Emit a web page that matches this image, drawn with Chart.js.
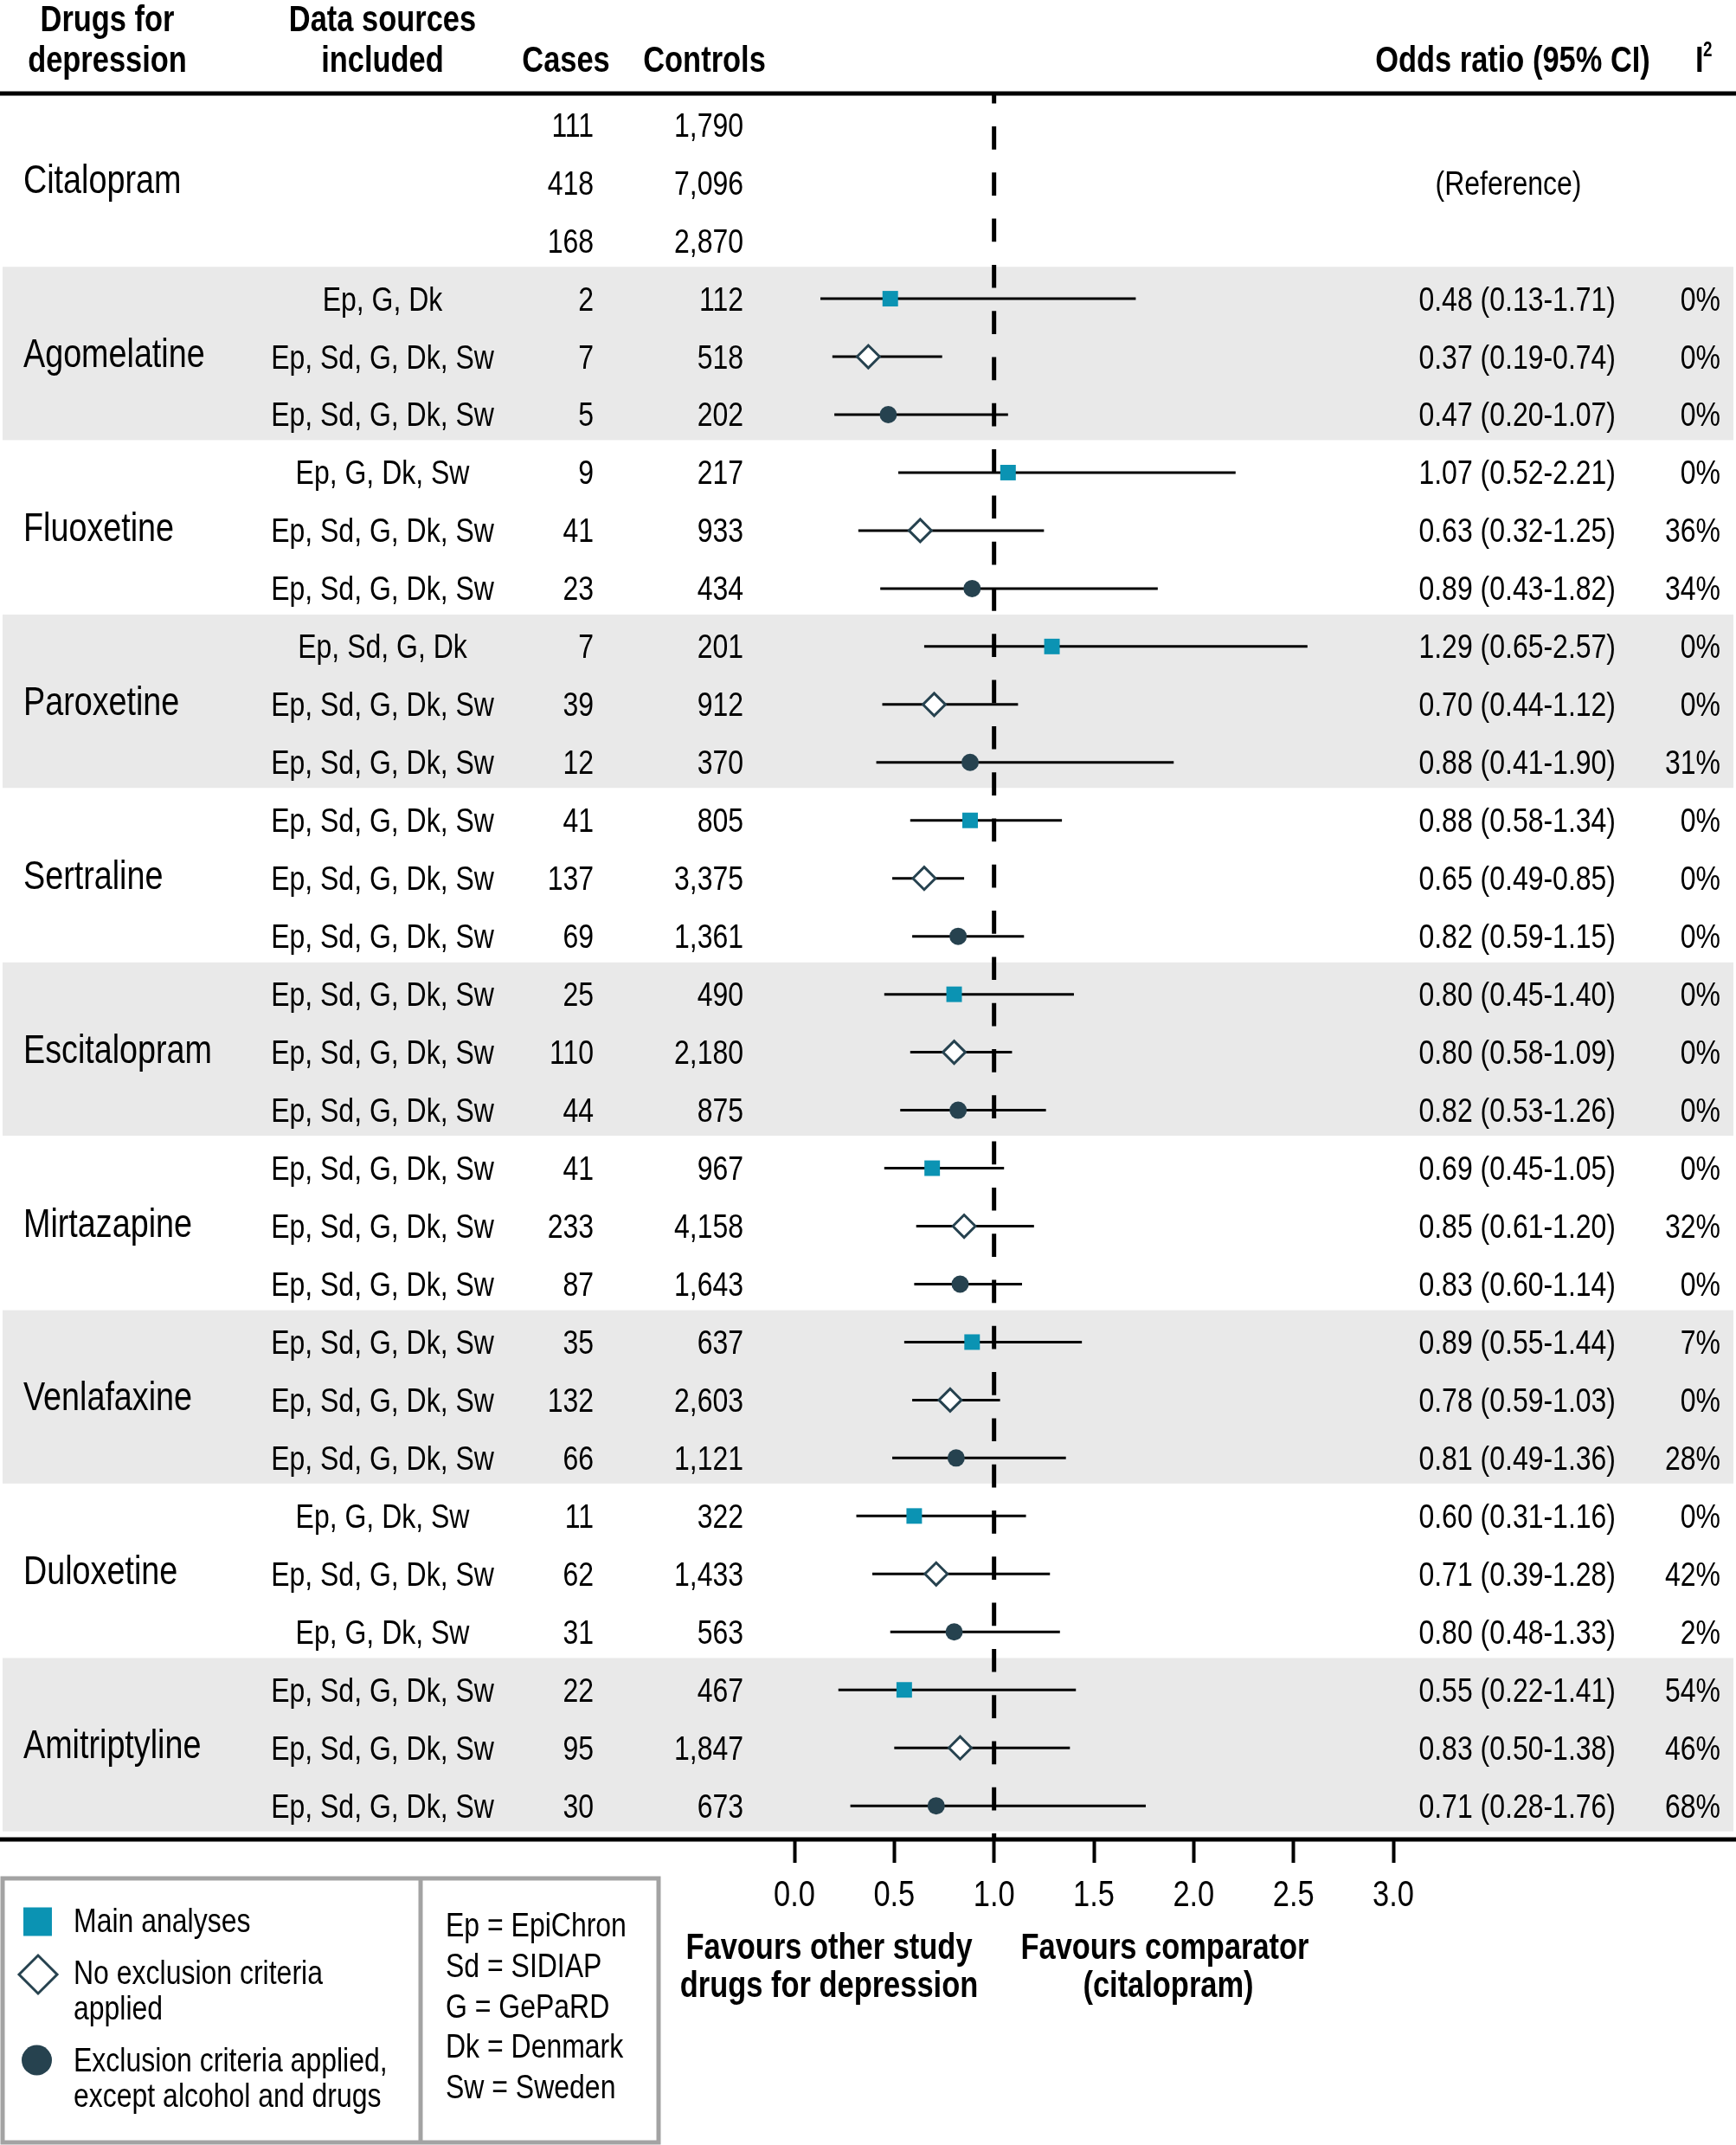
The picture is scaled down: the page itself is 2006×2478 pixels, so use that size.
<!DOCTYPE html>
<html>
<head>
<meta charset="utf-8">
<title>Drugs for depression vs citalopram</title>
<script src="https://cdn.jsdelivr.net/npm/chart.js@4.4.1/dist/chart.umd.min.js"></script>
<style>
  html, body { margin: 0; padding: 0; background: #fff; }
  #forest { display: block; }
</style>
</head>
<body>
<canvas id="forest" width="2006" height="2478"></canvas>
<script>
// Data: 10 drugs x 3 analyses
const drugs = ['Citalopram', 'Agomelatine', 'Fluoxetine', 'Paroxetine', 'Sertraline',
  'Escitalopram', 'Mirtazapine', 'Venlafaxine', 'Duloxetine', 'Amitriptyline'];
const ALL = 'Ep, Sd, G, Dk, Sw';
const dataSources = ['', '', '',
  'Ep, G, Dk', ALL, ALL,
  'Ep, G, Dk, Sw', ALL, ALL,
  'Ep, Sd, G, Dk', ALL, ALL,
  ALL, ALL, ALL,
  ALL, ALL, ALL,
  ALL, ALL, ALL,
  ALL, ALL, ALL,
  'Ep, G, Dk, Sw', ALL, 'Ep, G, Dk, Sw',
  ALL, ALL, ALL];
const cases = [111, 418, 168, 2, 7, 5, 9, 41, 23, 7, 39, 12, 41, 137, 69,
  25, 110, 44, 41, 233, 87, 35, 132, 66, 11, 62, 31, 22, 95, 30];
const controls = [1790, 7096, 2870, 112, 518, 202, 217, 933, 434, 201, 912, 370, 805, 3375, 1361,
  490, 2180, 875, 967, 4158, 1643, 637, 2603, 1121, 322, 1433, 563, 467, 1847, 673];
const oddsRatio = [null, null, null, 0.48, 0.37, 0.47, 1.07, 0.63, 0.89, 1.29, 0.70, 0.88,
  0.88, 0.65, 0.82, 0.80, 0.80, 0.82, 0.69, 0.85, 0.83, 0.89, 0.78, 0.81, 0.60, 0.71, 0.80, 0.55, 0.83, 0.71];
const ciLower = [null, null, null, 0.13, 0.19, 0.20, 0.52, 0.32, 0.43, 0.65, 0.44, 0.41,
  0.58, 0.49, 0.59, 0.45, 0.58, 0.53, 0.45, 0.61, 0.60, 0.55, 0.59, 0.49, 0.31, 0.39, 0.48, 0.22, 0.50, 0.28];
const ciUpper = [null, null, null, 1.71, 0.74, 1.07, 2.21, 1.25, 1.82, 2.57, 1.12, 1.90,
  1.34, 0.85, 1.15, 1.40, 1.09, 1.26, 1.05, 1.20, 1.14, 1.44, 1.03, 1.36, 1.16, 1.28, 1.33, 1.41, 1.38, 1.76];
const iSquared = [null, null, null, 0, 0, 0, 0, 36, 34, 0, 0, 31, 0, 0, 0, 0, 0, 0,
  0, 32, 0, 7, 0, 28, 0, 42, 2, 54, 46, 68];
const analyses = [['Main analyses'], ['No exclusion criteria', 'applied'],
  ['Exclusion criteria applied,', 'except alcohol and drugs']];
const sourceKey = ['Ep = EpiChron', 'Sd = SIDIAP', 'G = GePaRD', 'Dk = Denmark', 'Sw = Sweden'];
const tickValues = [0, 0.5, 1, 1.5, 2, 2.5, 3];

// Styles
const TEAL = '#0b93b3';
const DARK = '#26424f';
const BAND = '#e9e9e9';
const FONT = '"Liberation Sans", Arial, sans-serif';
const NARROW = 0.82; // squeeze Liberation Sans to an Arial Narrow look
const markerStyle = [
  { pointStyle: 'rect', pointRadius: 12.7, backgroundColor: TEAL, borderColor: TEAL, borderWidth: 0 },
  { pointStyle: 'rectRot', pointRadius: 13, backgroundColor: '#fff', borderColor: DARK, borderWidth: 3 },
  { pointStyle: 'circle', pointRadius: 10, backgroundColor: DARK, borderColor: DARK, borderWidth: 0 }
];

const rows = cases.map((c, i) => i);
const fmt = n => n.toLocaleString('en-US');

function txt(ctx, s, x, y, align, size, bold) {
  ctx.save();
  ctx.font = (bold ? 'bold ' : '') + size + 'px ' + FONT;
  ctx.textAlign = align;
  ctx.textBaseline = 'alphabetic';
  ctx.fillStyle = '#000';
  ctx.translate(x, y);
  ctx.scale(NARROW, 1);
  ctx.fillText(s, 0, 0);
  ctx.restore();
}

// linear scale whose tick labels are drawn condensed
class NarrowLinearScale extends Chart.LinearScale {
  drawLabels(chartArea) {
    if (!this.options.ticks.display) return;
    const ctx = this.ctx;
    this.getLabelItems(chartArea).forEach(item => {
      const [tx, ty] = item.options.translation;
      ctx.save();
      ctx.translate(tx, ty);
      ctx.scale(NARROW, 1);
      Chart.helpers.renderText(ctx, item.label, 0, item.textOffset, item.font,
        Object.assign({}, item.options, { translation: [0, 0] }));
      ctx.restore();
    });
  }
}
NarrowLinearScale.id = 'narrowLinear';
NarrowLinearScale.defaults = Chart.LinearScale.defaults;
Chart.register(NarrowLinearScale);

// Marker datasets, one per analysis type (row index % 3)
const markerSets = analyses.map((lines, k) => Object.assign({
  label: lines.join(' '),
  data: rows.filter(i => i % 3 === k && oddsRatio[i] !== null).map(i => ({ x: oddsRatio[i], y: i })),
  order: 0
}, markerStyle[k]));

// Confidence intervals as one broken line
const ciSet = {
  label: '95% CI',
  data: rows.filter(i => oddsRatio[i] !== null)
    .flatMap(i => [{ x: ciLower[i], y: i }, { x: ciUpper[i], y: i }, { x: null, y: null }]),
  showLine: true,
  spanGaps: false,
  pointRadius: 0,
  borderColor: '#000',
  borderWidth: 3,
  order: 2
};

const refSet = {
  label: 'No effect',
  data: [{ x: 1, y: -0.54 }, { x: 1, y: 29.58 }],
  showLine: true,
  pointRadius: 0,
  borderColor: '#000',
  borderWidth: 5,
  borderDash: [26.7, 26.6],
  borderDashOffset: 15.3,
  order: 1
};

const tablePlugin = {
  id: 'forestTable',
  beforeDatasetsDraw(chart) {
    const { ctx } = chart;
    const y = chart.scales.y;
    ctx.save();
    ctx.fillStyle = BAND;
    drugs.forEach((d, g) => {
      if (g % 2 === 1) {
        const top = y.getPixelForValue(3 * g - 0.55);
        const bot = y.getPixelForValue(3 * g + 2.44);
        ctx.fillRect(3, top, 2000, bot - top);
      }
    });
    ctx.restore();
  },
  afterDraw(chart) {
    const { ctx } = chart;
    const y = chart.scales.y;
    ctx.save();

    // rules
    ctx.strokeStyle = '#000';
    ctx.lineWidth = 5;
    [y.getPixelForValue(-0.54), y.getPixelForValue(29.58)].forEach(py => {
      ctx.beginPath(); ctx.moveTo(0, py); ctx.lineTo(2006, py); ctx.stroke();
    });

    // header
    txt(ctx, 'Drugs for', 124, 36, 'center', 42, true);
    txt(ctx, 'depression', 124, 83, 'center', 42, true);
    txt(ctx, 'Data sources', 442, 36, 'center', 42, true);
    txt(ctx, 'included', 442, 83, 'center', 42, true);
    txt(ctx, 'Cases', 654, 83, 'center', 42, true);
    txt(ctx, 'Controls', 814, 83, 'center', 42, true);
    txt(ctx, 'Odds ratio (95% CI)', 1748, 83, 'center', 42, true);
    txt(ctx, 'I', 1959, 83, 'left', 42, true);
    txt(ctx, '2', 1968, 65, 'left', 23, true);

    // rows
    rows.forEach(i => {
      const py = y.getPixelForValue(i);
      const base = py + 13.5;
      if (i % 3 === 1) txt(ctx, drugs[(i - 1) / 3], 27, py + 12, 'left', 46, false);
      if (dataSources[i]) txt(ctx, dataSources[i], 442, base, 'center', 39, false);
      txt(ctx, String(cases[i]), 686, base, 'right', 39, false);
      txt(ctx, fmt(controls[i]), 859, base, 'right', 39, false);
      if (oddsRatio[i] !== null) {
        const s = oddsRatio[i].toFixed(2) + ' (' + ciLower[i].toFixed(2) + '-' + ciUpper[i].toFixed(2) + ')';
        txt(ctx, s, 1867, base, 'right', 39, false);
        txt(ctx, iSquared[i] + '%', 1988, base, 'right', 39, false);
      }
    });
    txt(ctx, '(Reference)', 1743, y.getPixelForValue(1) + 13.5, 'center', 39, false);

    // axis captions
    txt(ctx, 'Favours other study', 958, 2263, 'center', 42, true);
    txt(ctx, 'drugs for depression', 958, 2307, 'center', 42, true);
    txt(ctx, 'Favours comparator', 1346, 2263, 'center', 42, true);
    txt(ctx, '(citalopram)', 1350, 2307, 'center', 42, true);

    // legend box
    ctx.strokeStyle = '#a3a3a3';
    ctx.lineWidth = 5;
    ctx.strokeRect(3, 2170, 758, 305);
    ctx.beginPath(); ctx.moveTo(486, 2170); ctx.lineTo(486, 2475); ctx.stroke();

    const legendMarks = [
      { r: 23.3, x: 43.5, y: 2220 },
      { r: 22, x: 44, y: 2281 },
      { r: 17.5, x: 42.5, y: 2380 }
    ];
    legendMarks.forEach((m, k) => {
      const st = markerStyle[k];
      ctx.fillStyle = st.backgroundColor;
      ctx.strokeStyle = st.borderColor;
      ctx.lineWidth = st.borderWidth;
      Chart.helpers.drawPoint(ctx, { pointStyle: st.pointStyle, radius: m.r, borderWidth: st.borderWidth, rotation: 0 }, m.x, m.y);
    });
    const legendBase = [[2232], [2292, 2333], [2393, 2434]];
    analyses.forEach((lines, k) => lines.forEach((l, j) => txt(ctx, l, 85, legendBase[k][j], 'left', 39, false)));
    sourceKey.forEach((s, j) => txt(ctx, s, 515, 2237 + j * 46.8, 'left', 39, false));

    ctx.restore();
  }
};

new Chart(document.getElementById('forest').getContext('2d'), {
  type: 'scatter',
  data: { datasets: [...markerSets, refSet, ciSet] },
  options: {
    responsive: false,
    devicePixelRatio: 1,
    animation: false,
    layout: { padding: { left: 918, right: 396, top: 108, bottom: 0 } },
    plugins: { legend: { display: false }, tooltip: { enabled: false } },
    scales: {
      x: {
        type: 'narrowLinear',
        min: 0,
        max: 3,
        afterBuildTicks: s => { s.ticks = tickValues.map(v => ({ value: v })); },
        afterFit: s => { s.height = 353; },
        ticks: {
          callback: v => Number(v).toFixed(1),
          color: '#000',
          font: { family: FONT, size: 42 },
          padding: 13,
          maxRotation: 0,
          autoSkip: false
        },
        grid: { drawOnChartArea: false, drawTicks: true, tickLength: 27, tickWidth: 4, color: '#000' },
        border: { display: false }
      },
      y: { type: 'linear', min: -0.54, max: 29.58, reverse: true, display: false }
    }
  },
  plugins: [tablePlugin]
});
</script>
</body>
</html>
